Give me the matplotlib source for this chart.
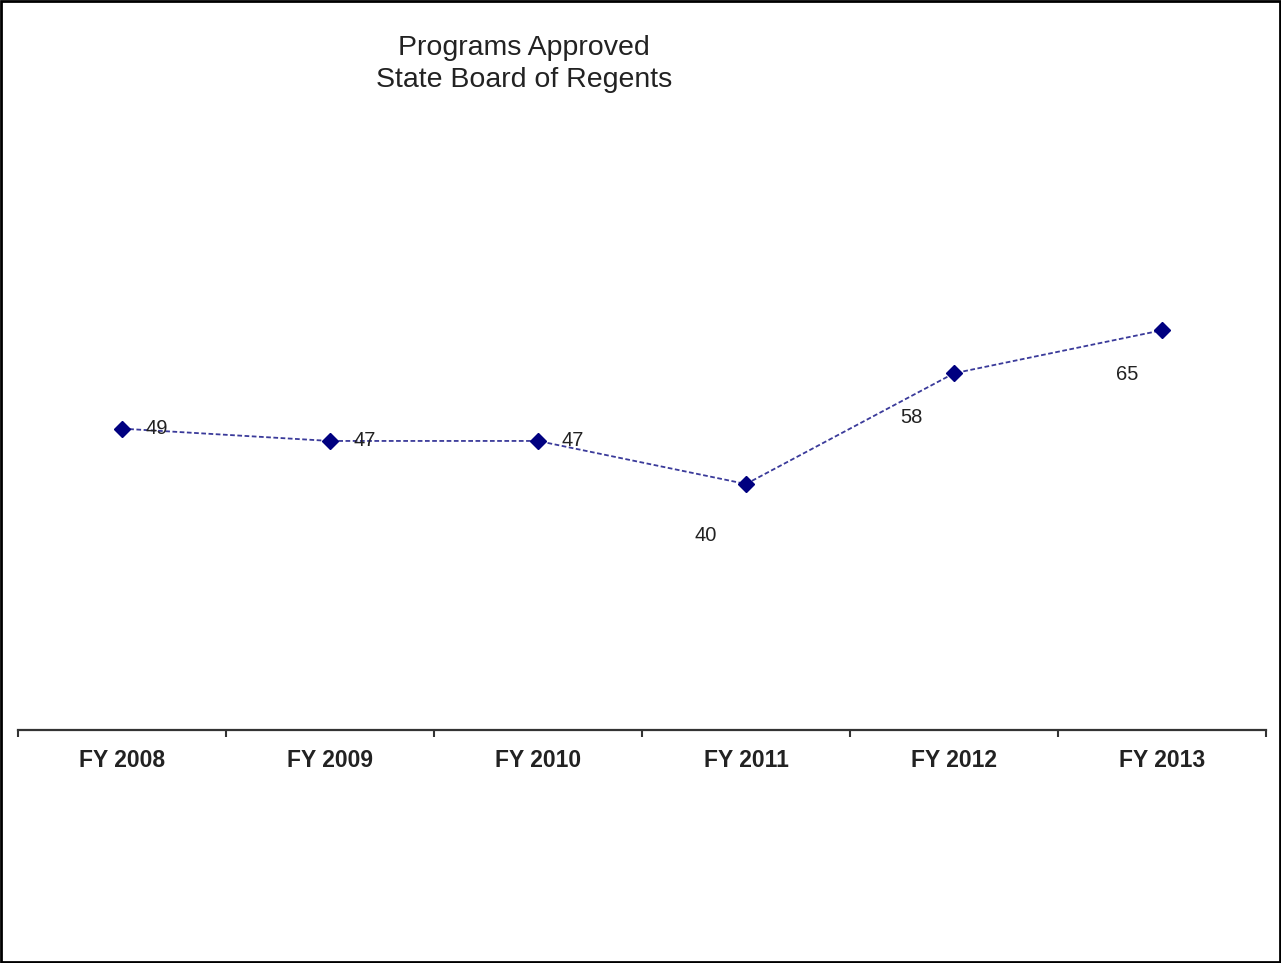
import matplotlib.pyplot as plt
from matplotlib.patches import Rectangle

plt.rcParams['font.family'] = ['Liberation Sans', 'DejaVu Sans']

years = ["FY 2008", "FY 2009", "FY 2010", "FY 2011", "FY 2012", "FY 2013"]
approved = [49, 47, 47, 40, 58, 65]
title_lines = ["Programs Approved", "State Board of Regents"]
# label offsets in points (relative to marker)
label_offsets = [(25, 0), (25, 0), (25, 0), (-29, -37), (-31, -32), (-25, -32)]

W, H = 1281, 963
fig = plt.figure(figsize=(W / 100, H / 100), dpi=100)
ax = fig.add_axes([18 / W, (H - 730) / H, 1248 / W, 615 / H])

x = list(range(len(years)))
ax.plot(x, approved, color="#3a3a9a", lw=1.3, ls=(0, (2.6, 1.4)),
        marker="D", ms=8, mfc="#000080", mec="#000080", zorder=3)

for xi, v, off in zip(x, approved, label_offsets):
    ax.annotate(str(v), (xi, v), xytext=off, textcoords="offset points",
                ha="center", va="center", fontsize=14.5, color="#222222")

ax.set_xlim(-0.5, len(years) - 0.5)
ax.set_ylim(0, 100)
ax.set_xticks(x)
ax.set_xticklabels(years, fontsize=16.5, fontweight="bold", color="#222222")
ax.set_xticks([i - 0.5 for i in range(len(years) + 1)], minor=True)
ax.tick_params(axis="x", which="major", length=0, pad=13.5)
ax.tick_params(axis="x", which="minor", length=5, width=1.5, color="#333333", direction="out")
ax.set_yticks([])
for s in ["left", "top", "right"]:
    ax.spines[s].set_visible(False)
ax.spines["bottom"].set_linewidth(1.6)
ax.spines["bottom"].set_color("#333333")
ax.patch.set_alpha(0)

for i, line in enumerate(title_lines):
    fig.text(524 / W, 1 - (48 + 32 * i) / H, line,
             ha="center", va="center", fontsize=20.5, color="#222222")

fig.patches.append(Rectangle((0.0008, 0.001), 0.9984, 0.9975, transform=fig.transFigure,
                             fill=False, edgecolor="black", lw=2))

fig.savefig("out.png", dpi=100)
